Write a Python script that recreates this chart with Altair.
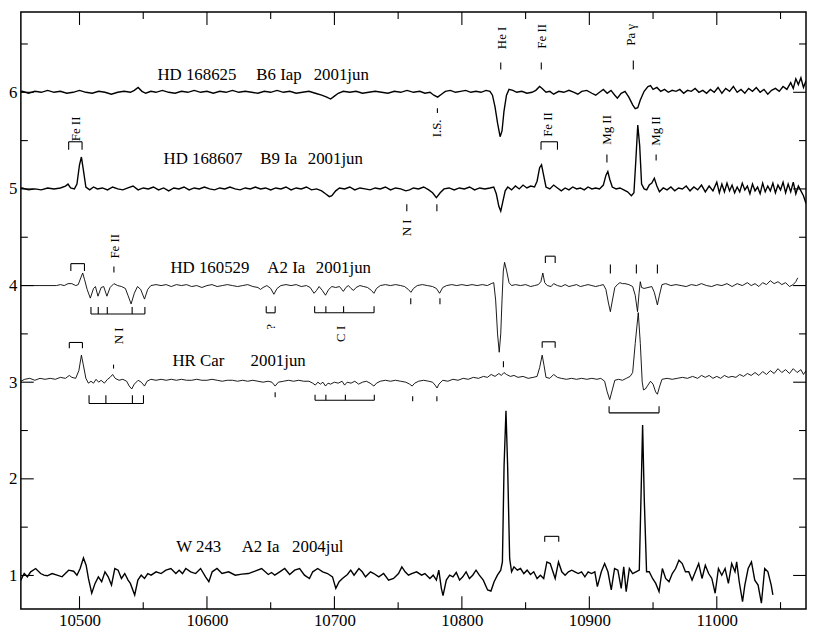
import altair as alt
import pandas as pd

# ---------------- spectra (wavelength in Angstrom, offset flux) ----------------
HD168625 = [
    (10450, 6.00), (10455, 6.01), (10460, 5.99), (10465, 6.01), (10470, 6.00), (10475, 6.02),
    (10480, 6.00), (10485, 6.01), (10490, 5.99), (10495, 6.00), (10500, 6.02), (10505, 6.00),
    (10510, 5.99), (10515, 6.01), (10520, 6.00), (10525, 5.98), (10530, 6.00), (10535, 6.01),
    (10540, 6.00), (10543, 6.02), (10546, 6.05), (10549, 6.01), (10552, 5.99), (10556, 6.01),
    (10560, 6.00), (10565, 6.02), (10570, 6.00), (10575, 5.99), (10580, 6.01), (10585, 6.00),
    (10590, 6.02), (10595, 6.00), (10600, 6.01), (10605, 5.99), (10610, 6.01), (10615, 6.00),
    (10620, 6.02), (10625, 6.00), (10630, 6.01), (10635, 6.00), (10640, 5.99), (10645, 6.01),
    (10650, 6.00), (10655, 6.02), (10660, 6.00), (10665, 6.01), (10670, 5.99), (10675, 6.00),
    (10680, 6.01), (10685, 5.99), (10690, 5.97), (10694, 5.95), (10697, 5.93), (10700, 5.96),
    (10703, 5.99), (10707, 6.01), (10712, 6.00), (10717, 6.01), (10722, 5.99), (10727, 6.00),
    (10732, 6.01), (10737, 6.00), (10742, 5.99), (10747, 6.01), (10752, 6.00), (10757, 6.02),
    (10762, 6.00), (10767, 6.01), (10771, 5.99), (10775, 6.00), (10778, 5.97), (10781, 5.95),
    (10784, 5.98), (10787, 6.01), (10791, 6.02), (10795, 6.00), (10799, 6.01), (10803, 6.02),
    (10807, 6.00), (10811, 6.01), (10815, 6.00), (10819, 6.02), (10822, 6.01), (10824, 5.97),
    (10826, 5.85), (10828, 5.68), (10830, 5.54), (10831.5, 5.60), (10833, 5.80), (10835, 5.97),
    (10837, 6.03), (10840, 6.02), (10843, 6.00), (10847, 6.01), (10851, 5.99), (10855, 6.00),
    (10858, 6.02), (10861, 6.06), (10863, 6.04), (10866, 6.00), (10869, 6.01), (10872, 5.98),
    (10876, 6.01), (10880, 6.00), (10884, 6.02), (10888, 6.00), (10891, 5.98), (10894, 6.01),
    (10898, 6.02), (10902, 5.99), (10905, 5.97), (10908, 6.00), (10911, 6.03), (10914, 5.99),
    (10917, 6.02), (10920, 5.97), (10922, 5.94), (10925, 5.99), (10928, 6.01), (10931, 5.95),
    (10934, 5.87), (10936, 5.83), (10938, 5.84), (10940, 5.92), (10943, 6.01), (10946, 6.06),
    (10948, 6.07), (10950, 6.03), (10953, 6.05), (10956, 6.01), (10959, 6.03), (10962, 6.00),
    (10965, 6.02), (10968, 6.01), (10971, 6.03), (10974, 5.99), (10977, 6.02), (10980, 6.01),
    (10983, 6.04), (10986, 6.00), (10989, 6.02), (10992, 5.99), (10995, 6.03), (10998, 6.00),
    (11001, 6.05), (11004, 5.99), (11007, 6.04), (11010, 6.01), (11013, 6.06), (11016, 6.00),
    (11019, 6.03), (11022, 5.99), (11025, 6.04), (11028, 6.01), (11031, 6.05), (11034, 6.00),
    (11037, 6.03), (11040, 5.98), (11043, 6.02), (11046, 6.04), (11049, 6.01), (11052, 6.06),
    (11055, 6.03), (11058, 6.10), (11060, 6.04), (11062, 6.14), (11064, 6.08), (11066, 6.15),
    (11068, 6.05), (11070, 6.12),
]

HD168607 = [
    (10450, 5.00), (10455, 5.01), (10460, 4.99), (10465, 5.00), (10470, 4.99), (10475, 5.01),
    (10480, 5.00), (10485, 5.01), (10489, 5.03), (10491, 5.05), (10493, 5.01), (10496, 5.00),
    (10498, 5.05), (10500, 5.25), (10501.5, 5.33), (10503, 5.20), (10505, 5.02), (10508, 4.99),
    (10511, 5.02), (10514, 5.00), (10518, 5.01), (10522, 4.99), (10526, 5.02), (10530, 5.00),
    (10534, 4.99), (10538, 5.01), (10542, 5.03), (10546, 4.99), (10550, 5.01), (10554, 5.00),
    (10558, 5.02), (10562, 4.99), (10566, 5.01), (10570, 4.98), (10574, 5.01), (10578, 5.00),
    (10582, 5.02), (10586, 4.99), (10590, 5.01), (10594, 5.00), (10598, 5.02), (10602, 5.00),
    (10606, 4.99), (10610, 5.01), (10614, 5.00), (10618, 5.02), (10622, 5.00), (10626, 4.99),
    (10630, 5.01), (10634, 5.00), (10638, 5.02), (10642, 5.00), (10646, 5.01), (10650, 4.99),
    (10654, 5.01), (10658, 5.00), (10662, 5.02), (10666, 4.99), (10670, 5.01), (10674, 5.00),
    (10678, 5.02), (10682, 4.99), (10686, 5.00), (10690, 4.98), (10693, 4.95), (10696, 4.92),
    (10698, 4.93), (10701, 4.98), (10704, 5.01), (10708, 5.00), (10712, 5.02), (10716, 4.99),
    (10720, 5.01), (10724, 5.00), (10728, 4.99), (10732, 5.01), (10736, 5.00), (10740, 5.02),
    (10744, 4.99), (10748, 5.01), (10752, 5.00), (10756, 4.98), (10759, 4.99), (10762, 5.01),
    (10766, 5.00), (10770, 5.02), (10774, 4.99), (10777, 4.96), (10780, 4.91), (10783, 4.96),
    (10786, 5.00), (10790, 5.01), (10794, 4.99), (10798, 5.01), (10802, 5.00), (10806, 5.02),
    (10810, 4.99), (10814, 5.01), (10818, 5.00), (10822, 5.01), (10825, 5.02), (10827, 4.95),
    (10829, 4.82), (10830.5, 4.77), (10832, 4.86), (10834, 4.98), (10836, 5.02), (10839, 4.99),
    (10842, 5.03), (10845, 5.00), (10848, 5.04), (10851, 5.01), (10854, 5.03), (10857, 5.02),
    (10859, 5.08), (10861, 5.22), (10862.5, 5.25), (10864, 5.15), (10866, 5.02), (10869, 5.00),
    (10872, 5.04), (10875, 5.01), (10878, 4.98), (10881, 5.01), (10884, 4.99), (10887, 5.02),
    (10890, 5.00), (10893, 5.01), (10896, 4.99), (10899, 5.02), (10902, 5.00), (10905, 5.01),
    (10908, 5.00), (10911, 5.04), (10913, 5.14), (10914.5, 5.18), (10916, 5.10), (10918, 5.02),
    (10921, 5.00), (10924, 5.01), (10927, 4.99), (10930, 4.97), (10933, 4.93), (10935, 4.96),
    (10936.5, 5.30), (10938, 5.66), (10939.5, 5.45), (10941, 5.05), (10943, 5.00), (10945, 4.99),
    (10947, 5.04), (10949, 5.06), (10951, 5.11), (10953, 5.03), (10955, 4.97), (10958, 5.01),
    (10961, 4.99), (10964, 5.02), (10967, 4.98), (10970, 5.01), (10973, 5.00), (10976, 5.03),
    (10979, 4.98), (10982, 5.02), (10985, 4.99), (10988, 5.04), (10991, 4.97), (10994, 5.03),
    (10997, 4.98), (11000, 5.07), (11002, 4.96), (11004, 5.05), (11006, 4.97), (11008, 5.06),
    (11010, 4.98), (11012, 5.04), (11014, 4.96), (11016, 5.02), (11018, 4.97), (11020, 5.06),
    (11022, 4.99), (11024, 5.03), (11026, 4.95), (11028, 5.05), (11030, 4.98), (11032, 5.02),
    (11034, 4.95), (11036, 5.06), (11038, 4.97), (11040, 5.03), (11042, 4.98), (11044, 5.06),
    (11046, 4.96), (11048, 5.04), (11050, 4.99), (11052, 5.07), (11054, 4.96), (11056, 5.05),
    (11058, 4.97), (11060, 5.07), (11062, 4.95), (11064, 5.03), (11066, 4.98), (11068, 4.93),
    (11070, 4.85),
]

HD160529 = [
    (10450, 4.00), (10482, 4.00), (10485, 4.01), (10488, 4.00), (10491, 4.02), (10494, 4.02),
    (10497, 4.00), (10499, 4.01), (10501, 4.08), (10502.5, 4.13), (10504, 4.06), (10506, 3.96),
    (10508.5, 3.87), (10511, 3.97), (10512.5, 3.99), (10514.5, 3.89), (10517, 3.98), (10519, 3.99),
    (10521.5, 3.89), (10524, 3.98), (10527, 4.02), (10530, 4.00), (10533, 3.99), (10536, 3.97),
    (10538, 3.90), (10540.5, 3.81), (10543, 3.92), (10545.5, 3.99), (10548, 3.96), (10551, 3.86),
    (10553.5, 3.96), (10556, 4.00), (10560, 4.01), (10564, 4.00), (10568, 4.01), (10572, 3.99),
    (10576, 4.01), (10580, 4.00), (10584, 4.01), (10588, 3.99), (10592, 4.00), (10596, 3.98),
    (10600, 4.00), (10604, 4.01), (10608, 3.99), (10612, 4.00), (10616, 4.01), (10620, 4.00),
    (10624, 3.99), (10628, 4.00), (10632, 4.01), (10636, 3.99), (10640, 3.98), (10642, 3.96),
    (10644, 3.98), (10647, 4.00), (10650, 3.97), (10652.5, 3.91), (10655, 3.97), (10658, 4.00),
    (10662, 4.01), (10666, 4.00), (10670, 4.01), (10674, 3.99), (10678, 4.00), (10681, 3.98),
    (10684, 3.92), (10686, 3.95), (10688, 3.99), (10690.5, 3.95), (10693, 3.90), (10695.5, 3.96),
    (10698, 3.99), (10701, 3.98), (10704, 3.99), (10707, 3.94), (10709, 3.98), (10711, 4.00),
    (10713, 3.97), (10715, 3.95), (10717, 3.98), (10720, 4.00), (10723, 3.99), (10726, 3.98),
    (10729, 3.95), (10731, 3.92), (10733, 3.97), (10736, 4.00), (10740, 4.01), (10744, 4.00),
    (10748, 4.01), (10752, 4.00), (10755, 3.99), (10758, 3.96), (10760, 3.93), (10762, 3.97),
    (10765, 4.00), (10769, 4.01), (10773, 4.00), (10777, 3.99), (10780, 3.97), (10782.5, 3.92),
    (10785, 3.98), (10788, 4.00), (10792, 4.01), (10796, 4.00), (10800, 4.01), (10804, 4.00),
    (10808, 4.01), (10812, 4.00), (10816, 4.01), (10820, 4.00), (10823, 4.02), (10825, 4.03),
    (10826.5, 3.85), (10828, 3.50), (10829.3, 3.31), (10830.5, 3.50), (10831.5, 3.85),
    (10832.5, 4.15), (10833.5, 4.24), (10835, 4.16), (10837, 4.03), (10839, 4.00), (10842, 4.01),
    (10846, 4.00), (10850, 4.01), (10854, 3.99), (10857, 4.00), (10860, 4.01), (10862, 4.04),
    (10863.5, 4.13), (10865, 4.03), (10867, 4.00), (10870, 3.99), (10872, 4.02), (10875, 4.00),
    (10878, 3.99), (10881, 4.01), (10884, 3.99), (10887, 4.00), (10890, 4.01), (10893, 3.99),
    (10896, 4.00), (10899, 4.01), (10902, 4.00), (10905, 3.99), (10908, 4.00), (10911, 4.01),
    (10913, 3.96), (10915, 3.82), (10916.5, 3.73), (10918, 3.84), (10920, 3.98), (10922, 4.01),
    (10924, 4.03), (10926, 4.02), (10928, 4.02), (10931, 4.01), (10934, 3.99), (10936, 3.90),
    (10937.8, 3.73), (10939, 3.92), (10940, 4.04), (10941, 3.98), (10943, 3.97), (10946, 3.98),
    (10949, 3.99), (10951, 3.93), (10953.4, 3.80), (10955, 3.90), (10957, 4.01), (10960, 4.02),
    (10964, 4.00), (10968, 4.01), (10972, 4.00), (10976, 3.99), (10980, 4.01), (10984, 4.00),
    (10988, 4.02), (10992, 4.00), (10996, 3.99), (11000, 4.01), (11004, 4.00), (11008, 4.02),
    (11012, 3.99), (11016, 4.02), (11020, 4.00), (11024, 4.03), (11027, 4.00), (11030, 4.02),
    (11033, 3.99), (11036, 4.03), (11039, 4.01), (11042, 4.05), (11045, 4.02), (11048, 4.04),
    (11051, 4.01), (11054, 4.03), (11057, 3.99), (11060, 4.01), (11062, 4.04), (11063.5, 4.08),
]

HRCAR = [
    (10450, 3.02), (10452, 3.05), (10454, 3.01), (10457, 3.03), (10461, 3.04), (10465, 3.02),
    (10469, 3.04), (10473, 3.03), (10477, 3.04), (10481, 3.03), (10485, 3.05), (10489, 3.04),
    (10492, 3.07), (10494, 3.05), (10497, 3.04), (10499.5, 3.12), (10501.5, 3.28), (10503, 3.18),
    (10505, 3.04), (10507, 2.99), (10509, 3.01), (10511, 2.99), (10513, 3.03), (10515, 3.00),
    (10517, 3.02), (10519.5, 2.99), (10522, 3.03), (10524, 3.05), (10526, 3.08), (10528, 3.04),
    (10531, 3.02), (10534, 3.03), (10537, 3.01), (10539, 2.96), (10541, 2.93), (10543, 2.98),
    (10546, 3.02), (10548.5, 3.00), (10551, 2.96), (10553, 3.01), (10556, 3.03), (10560, 3.02),
    (10564, 3.03), (10568, 3.02), (10572, 3.03), (10576, 3.02), (10580, 3.03), (10584, 3.02),
    (10588, 3.02), (10592, 3.03), (10596, 3.02), (10600, 3.02), (10604, 3.03), (10608, 3.02),
    (10612, 3.01), (10616, 3.02), (10620, 3.02), (10624, 3.01), (10628, 3.02), (10632, 3.01),
    (10636, 3.02), (10640, 3.01), (10644, 3.00), (10648, 3.01), (10651, 3.00), (10653.5, 2.96),
    (10656, 3.00), (10660, 3.01), (10664, 3.02), (10668, 3.01), (10672, 3.02), (10676, 3.01),
    (10680, 3.01), (10683, 2.99), (10685, 2.97), (10687, 3.00), (10689, 2.98), (10691, 3.00),
    (10693, 2.96), (10695, 2.99), (10697, 2.98), (10700, 3.00), (10703, 2.99), (10706, 3.01),
    (10708, 2.97), (10710, 3.00), (10713, 2.99), (10716, 3.01), (10719, 2.98), (10722, 3.00),
    (10725, 3.01), (10728, 2.99), (10731, 2.96), (10733, 2.99), (10736, 3.01), (10740, 3.02),
    (10744, 3.01), (10748, 3.02), (10752, 3.01), (10756, 3.00), (10759, 2.98), (10761, 2.96),
    (10763, 2.99), (10766, 3.01), (10770, 3.02), (10774, 3.01), (10777, 3.00), (10779, 2.97),
    (10780.5, 2.94), (10782, 2.98), (10785, 3.02), (10789, 3.01), (10793, 3.03), (10797, 3.02),
    (10801, 3.04), (10805, 3.03), (10809, 3.05), (10813, 3.04), (10817, 3.06), (10820, 3.05),
    (10823, 3.08), (10826, 3.06), (10829, 3.09), (10831, 3.07), (10833, 3.10), (10835, 3.08),
    (10838, 3.06), (10841, 3.07), (10844, 3.05), (10848, 3.06), (10852, 3.04), (10856, 3.05),
    (10859, 3.06), (10861, 3.15), (10863, 3.28), (10864.5, 3.17), (10866, 3.05), (10869, 3.04),
    (10872, 3.08), (10875, 3.05), (10878, 3.04), (10882, 3.03), (10886, 3.04), (10890, 3.03),
    (10894, 3.04), (10898, 3.03), (10902, 3.04), (10906, 3.03), (10909, 3.04), (10912, 3.01),
    (10914, 2.90), (10916, 2.82), (10918, 2.92), (10920, 3.02), (10923, 3.03), (10926, 3.02),
    (10929, 3.04), (10932, 3.06), (10934, 3.10), (10936, 3.40), (10938.4, 3.72), (10940, 3.40),
    (10941.5, 3.00), (10942.5, 2.92), (10944, 2.93), (10946, 2.97), (10948, 3.01), (10950, 2.98),
    (10952, 2.90), (10953.4, 2.875), (10955, 2.95), (10957, 3.03), (10961, 3.04), (10965, 3.03),
    (10969, 3.04), (10973, 3.05), (10977, 3.04), (10981, 3.06), (10985, 3.04), (10988, 3.07),
    (10991, 3.05), (10994, 3.07), (10997, 3.04), (11000, 3.06), (11003, 3.04), (11006, 3.07),
    (11009, 3.05), (11012, 3.06), (11015, 3.05), (11018, 3.08), (11021, 3.06), (11024, 3.09),
    (11027, 3.07), (11030, 3.10), (11033, 3.07), (11036, 3.11), (11039, 3.08), (11042, 3.12),
    (11045, 3.09), (11048, 3.14), (11051, 3.10), (11054, 3.13), (11057, 3.09), (11060, 3.14),
    (11063, 3.10), (11066, 3.13), (11068, 3.08), (11070, 3.12),
]

W243 = [
    (10451.4, 1.038), (10454.0, 0.952), (10456.6, 1.020), (10459.1, 0.986), (10461.7, 1.038),
    (10465.6, 1.072), (10469.5, 1.020), (10472.1, 1.003), (10474.7, 0.997), (10478.5, 1.020),
    (10482.4, 1.003), (10486.3, 0.986), (10488.9, 1.020), (10491.5, 1.055), (10495.4, 1.044),
    (10498.0, 1.003), (10500.5, 1.072), (10503.1, 1.181), (10505.2, 1.106), (10507.0, 0.969),
    (10509.6, 0.816), (10512.2, 0.918), (10514.8, 0.986), (10517.4, 0.935), (10520.0, 1.038),
    (10522.5, 0.986), (10525.1, 0.901), (10527.7, 1.072), (10530.3, 1.055), (10532.9, 0.969),
    (10535.5, 1.020), (10538.1, 0.952), (10539.9, 0.918), (10543.3, 0.798), (10545.8, 0.952),
    (10548.4, 1.003), (10551.0, 0.969), (10553.6, 1.020), (10556.2, 1.003), (10560.1, 1.038),
    (10564.0, 1.020), (10567.8, 1.055), (10571.7, 1.072), (10575.6, 1.020), (10578.2, 1.055),
    (10580.8, 1.020), (10583.4, 1.072), (10587.2, 1.038), (10591.1, 1.020), (10595.0, 1.072),
    (10598.9, 0.986), (10601.5, 0.935), (10604.1, 1.038), (10607.9, 1.072), (10611.8, 1.020),
    (10617.0, 1.038), (10622.2, 1.003), (10627.4, 1.014), (10632.5, 1.020), (10637.7, 1.044),
    (10642.9, 1.072), (10648.1, 1.010), (10650.7, 1.031), (10653.2, 1.003), (10657.1, 1.038),
    (10661.0, 1.072), (10664.9, 1.010), (10668.8, 1.055), (10672.7, 1.072), (10676.5, 1.003),
    (10680.4, 0.969), (10683.0, 1.038), (10686.9, 1.072), (10690.8, 1.038), (10694.6, 1.020),
    (10698.5, 0.986), (10701.1, 0.867), (10703.7, 0.935), (10706.3, 0.969), (10710.2, 1.010),
    (10712.8, 1.055), (10715.4, 1.003), (10719.2, 1.072), (10721.8, 1.038), (10724.4, 0.986),
    (10728.3, 1.038), (10730.9, 1.020), (10734.8, 0.986), (10738.6, 1.020), (10742.5, 0.952),
    (10746.4, 0.969), (10750.3, 1.020), (10752.9, 1.089), (10755.5, 1.038), (10758.1, 1.003),
    (10760.6, 1.020), (10764.5, 1.038), (10768.4, 1.003), (10771.0, 1.020), (10772.3, 1.003),
    (10774.9, 0.969), (10777.5, 1.003), (10780.0, 0.952), (10781.9, 1.055), (10783.9, 0.867),
    (10785.2, 0.792), (10787.8, 0.952), (10790.4, 1.003), (10793.0, 0.986), (10795.6, 1.031),
    (10798.2, 0.952), (10800.7, 0.986), (10803.3, 1.038), (10805.9, 0.969), (10808.5, 1.003),
    (10811.1, 1.055), (10813.7, 1.003), (10816.8, 0.952), (10820.2, 0.850), (10822.8, 0.839),
    (10825.3, 0.935), (10827.9, 1.003), (10830.5, 1.055), (10831.8, 1.140), (10833.1, 2.130),
    (10834.6, 2.704), (10835.9, 2.130), (10837.5, 1.174), (10839.0, 1.038), (10840.9, 1.089),
    (10843.5, 1.055), (10846.0, 1.072), (10848.6, 1.020), (10851.2, 1.055), (10853.8, 1.010),
    (10856.4, 1.038), (10859.0, 0.969), (10861.6, 1.003), (10864.2, 0.969), (10866.7, 1.140),
    (10869.3, 1.123), (10871.9, 1.020), (10873.2, 0.969), (10875.8, 1.140), (10878.4, 1.038),
    (10881.0, 1.003), (10883.6, 1.038), (10886.2, 1.055), (10888.7, 1.038), (10891.3, 1.020),
    (10893.9, 1.038), (10896.5, 0.986), (10899.1, 1.038), (10901.7, 1.020), (10904.3, 1.038),
    (10906.3, 0.884), (10909.4, 1.038), (10912.0, 1.123), (10914.6, 1.038), (10917.2, 0.850),
    (10919.8, 1.072), (10922.4, 1.055), (10925.0, 0.867), (10927.0, 1.089), (10928.9, 0.833),
    (10931.4, 1.072), (10934.0, 1.020), (10936.6, 1.038), (10939.2, 1.055), (10940.5, 1.789),
    (10941.8, 2.557), (10943.1, 1.789), (10944.9, 1.038), (10947.0, 1.038), (10949.6, 0.969),
    (10952.1, 0.918), (10954.7, 0.833), (10957.3, 1.072), (10959.9, 0.969), (10962.5, 0.935),
    (10965.1, 1.020), (10967.7, 1.072), (10970.3, 1.157), (10972.9, 1.123), (10975.4, 1.038),
    (10978.0, 1.038), (10980.6, 0.952), (10983.2, 1.038), (10985.8, 1.123), (10988.4, 0.969),
    (10991.0, 1.106), (10993.6, 1.020), (10996.1, 0.969), (10998.7, 0.816), (11001.3, 1.072),
    (11003.9, 1.003), (11006.5, 1.072), (11009.1, 0.918), (11011.7, 1.123), (11014.3, 1.038),
    (11015.6, 1.140), (11017.6, 0.935), (11020.2, 0.730), (11022.0, 0.901), (11024.6, 1.072),
    (11027.2, 1.140), (11029.8, 0.952), (11032.4, 0.901), (11035.0, 0.713), (11037.6, 1.072),
    (11040.1, 1.038), (11042.7, 0.901), (11044.0, 0.799),
]

# ---------------- axis values ----------------
X_MAJOR = [10500, 10600, 10700, 10800, 10900, 11000]
X_MINOR = [10550, 10650, 10750, 10850, 10950, 11050]
Y_MAJOR = [1, 2, 3, 4, 5, 6]
Y_MINOR = [1.5, 2.5, 3.5, 4.5, 5.5, 6.5]

# ---------------- star labels (left x in Angstrom, baseline in flux units) ----------------
STAR_TEXT = ["HD 168625", "B6 Iap", "2001jun",
             "HD 168607", "B9 Ia", "2001jun",
             "HD 160529", "A2 Ia", "2001jun",
             "HR Car", "2001jun",
             "W 243", "A2 Ia", "2004jul"]
STAR_TEXT_X = [10561.1, 10638.7, 10683.7,
               10565.9, 10641.9, 10679.1,
               10571.3, 10647.4, 10685.4,
               10572.9, 10634.2,
               10575.9, 10627.2, 10666.8]
STAR_TEXT_Y = [6.123, 6.123, 6.123,
               5.262, 5.262, 5.262,
               4.135, 4.135, 4.135,
               3.172, 3.172,
               1.246, 1.246, 1.246]

# ---------------- line identifications (rotated text, centre position) ----------------
LINE_TEXT = ["He I", "Fe II", "Pa \u03b3", "Fe II", "I.S.", "Fe II", "Mg II", "Mg II",
             "N I", "Fe II", "N I", "?", "C I"]
LINE_TEXT_X = [10831.3, 10862.9, 10933.0, 10497.5, 10780.6, 10867.5, 10913.8, 10952.2,
               10756.8, 10527.7, 10531.0, 10650.4, 10705.3]
LINE_TEXT_Y = [6.563, 6.579, 6.594, 5.621, 5.626, 5.667, 5.611, 5.600,
               4.596, 4.407, 3.480, 3.572, 3.500]

# ---------------- short vertical marks ----------------
DASH_X = [10830.5, 10862.3, 10934.5, 10780.8, 10913.8, 10952.4, 10756.8, 10780.4,
          10527.0, 10759.9, 10782.8, 10916.5, 10936.9, 10953.4,
          10526.7, 10653.5, 10761.4, 10780.4, 10832.6]
DASH_Y1 = [6.307, 6.307, 6.328, 5.836, 5.355, 5.355, 4.842, 4.842,
           4.197, 3.869, 3.869, 4.217, 4.217, 4.217,
           3.182, 2.895, 2.855, 2.855, 3.216]
DASH_Y2 = [6.236, 6.236, 6.236, 5.785, 5.273, 5.293, 4.770, 4.770,
           4.135, 3.807, 3.807, 4.125, 4.125, 4.125,
           3.141, 2.844, 2.803, 2.803, 3.155]

# ---------------- brackets (bar from x1 to x2 at y_bar, legs to y_leg) ----------------
BR_X1 = [10491.5, 10862.1, 10493.2, 10865.5, 10492.0, 10863.0, 10865.0, 10646.5, 10915.5]
BR_X2 = [10502.0, 10875.0, 10503.9, 10873.2, 10502.3, 10873.2, 10876.0, 10653.5, 10954.7]
BR_YBAR = [5.488, 5.488, 4.227, 4.304, 3.411, 3.418, 1.405, 3.718, 2.683]
BR_YLEG = [5.406, 5.406, 4.151, 4.233, 3.352, 3.357, 1.348, 3.787, 2.752]

# ---------------- multiplet combs ----------------
COMB_TICKS = [[10509.0, 10514.7, 10521.8, 10541.3, 10551.3],
              [10684.5, 10693.3, 10707.2, 10731.1],
              [10507.5, 10520.7, 10541.5, 10550.2],
              [10684.8, 10693.3, 10708.6, 10731.3]]
COMB_YBAR = [3.705, 3.718, 2.780, 2.814]
COMB_YTIP = [3.777, 3.787, 2.865, 2.870]

# ---------------- build tables ----------------
def spec_df(name, pairs):
    return pd.DataFrame({"star": name, "wl": [p[0] for p in pairs], "flux": [p[1] for p in pairs]})

thick = pd.concat([spec_df("HD 168625", HD168625), spec_df("HD 168607", HD168607),
                   spec_df("W 243", W243)], ignore_index=True)
thin = pd.concat([spec_df("HD 160529", HD160529), spec_df("HR Car", HRCAR)], ignore_index=True)

segs = []
for x, y1, y2 in zip(DASH_X, DASH_Y1, DASH_Y2):
    segs.append((x, y1, x, y2))
for x1, x2, yb, yl in zip(BR_X1, BR_X2, BR_YBAR, BR_YLEG):
    segs.append((x1, yb, x2, yb))
    segs.append((x1, yb, x1, yl))
    segs.append((x2, yb, x2, yl))
for ticks, yb, yt in zip(COMB_TICKS, COMB_YBAR, COMB_YTIP):
    segs.append((ticks[0], yb, ticks[-1], yb))
    for t in ticks:
        segs.append((t, yb, t, yt))
seg_df = pd.DataFrame(segs, columns=["x", "y", "x2", "y2"])

star_df = pd.DataFrame({"t": STAR_TEXT, "x": STAR_TEXT_X, "y": STAR_TEXT_Y})
line_df = pd.DataFrame({"t": LINE_TEXT, "x": LINE_TEXT_X, "y": LINE_TEXT_Y})

W, H = 793, 603
FONT = "Liberation Serif"
xs = alt.Scale(domain=[10454, 11070], nice=False, zero=False)
ys = alt.Scale(domain=[0.652, 6.83], nice=False, zero=False)

x_axis = alt.Axis(values=X_MAJOR, format="d", ticks=False, domain=False, grid=False,
                  labelFont=FONT, labelFontSize=17, labelPadding=4, labelColor="black", title=None)
y_axis = alt.Axis(values=Y_MAJOR, format="d", ticks=False, domain=False, grid=False,
                  labelFont=FONT, labelFontSize=17, labelPadding=4, labelColor="black", title=None)


def X(field):
    return alt.X(field, scale=xs, axis=x_axis, title=None)


def Y(field):
    return alt.Y(field, scale=ys, axis=y_axis, title=None)


thick_layer = alt.Chart(thick).mark_line(color="black", strokeWidth=1.4, clip=True).encode(
    x=X("wl:Q"), y=Y("flux:Q"), detail="star:N")
thin_layer = alt.Chart(thin).mark_line(color="black", strokeWidth=0.9, clip=True).encode(
    x=X("wl:Q"), y=Y("flux:Q"), detail="star:N")

seg_layer = alt.Chart(seg_df).mark_rule(color="black", strokeWidth=1.1).encode(
    x=X("x:Q"), x2="x2:Q", y=Y("y:Q"), y2="y2:Q")

star_layer = alt.Chart(star_df).mark_text(font=FONT, fontSize=17, align="left",
                                          baseline="alphabetic", color="black").encode(
    x=X("x:Q"), y=Y("y:Q"), text="t:N")

line_layer = alt.Chart(line_df).mark_text(font=FONT, fontSize=13, align="center",
                                          baseline="middle", angle=270, color="black").encode(
    x=X("x:Q"), y=Y("y:Q"), text="t:N")


def xticks(vals, y0, y1):
    return alt.Chart(pd.DataFrame({"v": vals})).mark_rule(color="black", strokeWidth=1.1).encode(
        x=X("v:Q"), y=alt.value(y0), y2=alt.value(y1))


def yticks(vals, x0, x1):
    return alt.Chart(pd.DataFrame({"v": vals})).mark_rule(color="black", strokeWidth=1.1).encode(
        y=Y("v:Q"), x=alt.value(x0), x2=alt.value(x1))


MAJ, MIN = 13, 7
tick_layers = [
    xticks(X_MAJOR, H, H - MAJ), xticks(X_MINOR, H, H - MIN),
    xticks(X_MAJOR, 0, MAJ), xticks(X_MINOR, 0, MIN),
    yticks(Y_MAJOR, 0, MAJ), yticks(Y_MINOR, 0, MIN),
    yticks(Y_MAJOR, W, W - MAJ), yticks(Y_MINOR, W, W - MIN),
]

chart = alt.layer(thick_layer, thin_layer, seg_layer, star_layer, line_layer, *tick_layers).properties(
    width=W, height=H, padding=0, background="white"
).configure_view(stroke="black", strokeWidth=1.5)

chart.save("out.html", embed_options={"renderer": "svg", "actions": False})
